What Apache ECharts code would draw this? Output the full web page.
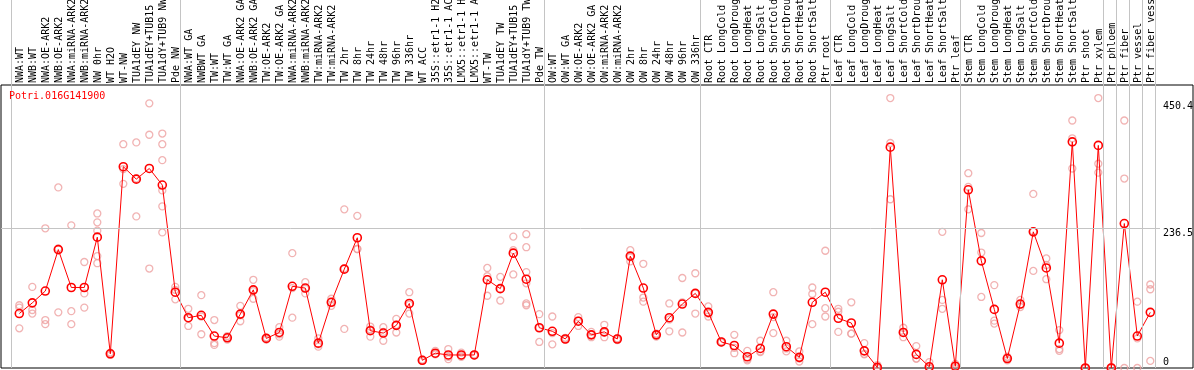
<!DOCTYPE html>
<html><head><meta charset="utf-8">
<script src="https://cdn.jsdelivr.net/npm/echarts@6/dist/echarts.min.js"></script>
<style>html,body{margin:0;padding:0;background:#fff}#c{width:1194px;height:370px}</style>
</head><body><div id="c"></div>
<script>
const geneTitle = 'Potri.016G141900';
const categories = [
 'NWA:WT','NWB:WT','NWA:OE-ARK2','NWB:OE-ARK2','NWA:miRNA-ARK2','NWB:miRNA-ARK2','NW 0hr','WT H2O','WT-NW','TUA1dEY NW','TUA1dEY+TUB15 NW','TUA1dY+TUB9 NW','Pde NW',
 'NWA:WT GA','NWBWT GA','TW:WT','TW:WT GA','NWA:OE-ARK2 GA','NWB:OE-ARK2 GA','TW:OE-ARK2','TW:OE-ARK2 GA','NWA:miRNA-ARK2 GA','NWB:miRNA-ARK2 GA','TW:miRNA-ARK2','TW:miRNA-ARK2 GA','TW 2hr','TW 8hr','TW 24hr','TW 48hr','TW 96hr','TW 336hr','WT ACC','35S::etr1-1 H2O','35S::etr1-1 ACC','LMX5::etr1-1 H2O','LMX5::etr1-1 ACC','WT-TW','TUA1dEY TW','TUA1dEY+TUB15 TW','TUA1dY+TUB9 TW','Pde TW',
 'OW:WT','OW:WT GA','OW:OE-ARK2','OW:OE-ARK2 GA','OW:miRNA-ARK2','OW:miRNA-ARK2 GA','OW 2hr','OW 8hr','OW 24hr','OW 48hr','OW 96hr','OW 336hr',
 'Root CTR','Root LongCold','Root LongDrought','Root LongHeat','Root LongSalt','Root ShortCold','Root ShortDrought','Root ShortHeat','Root ShortSalt','Ptr root',
 'Leaf CTR','Leaf LongCold','Leaf LongDrought','Leaf LongHeat','Leaf LongSalt','Leaf ShortCold','Leaf ShortDrought','Leaf ShortHeat','Leaf ShortSalt','Ptr leaf',
 'Stem CTR','Stem LongCold','Stem LongDrought','Stem LongHeat','Stem LongSalt','Stem ShortCold','Stem ShortDrought','Stem ShortHeat','Stem ShortSalt','Ptr shoot','Ptr xylem',
 'Ptr phloem','Ptr fiber','Ptr vessel','Ptr fiber vessel'
];
const groupSizes = [13, 28, 12, 10, 10, 11, 1, 1, 1, 1];
const means = [92,110,130,200,136,136,221,24,340,319,337,309,128,
 85,89,54,51,91,132,50,60,138,135,42,111,167,220,63,59,72,109,13,25,22,22,22,149,134,194,150,68,
 62,49,79,56,61,49,189,135,56,85,108,126,
 94,44,38,19,33,91,36,18,111,128,
 84,76,29,1,373,60,23,2,149,3,
 301,181,99,16,108,230,169,42,382,0,376,
 0,244,54,94];
const replicates = [
 [106,102,67],[137,98,92],[236,81,74],[305,94,202],[241,96,74],[179,126,102],[261,246,232,189,177],[22,24,26],[378,311,336],[381,256,320],[447,394,168],[396,378,351,300,273,229],[137,116,132],
 [100,71,84],[123,57,87],[81,42,39],[48,51,54],[105,79,89],[149,117,130],[48,51,51],[69,53,57],[194,85,135],[145,126,134],[50,36,40],[117,105,111],[268,66,168],[257,201,201],[70,53,65],[69,46,61],[83,60,73],[128,92,107],[12,13,14],[29,23,24],[32,15,19],[26,19,21],[21,23,22],[169,122,155],[154,114,134],[222,199,158],[226,204,162,143,109,106],[91,44,68],
 [87,40,59],[48,49,51],[86,71,80],[61,52,56],[73,52,60],[47,50,50],[199,180,187],[176,119,112],[53,56,58],[109,62,82],[152,60,111],[160,92,126],
 [104,87,92],[43,44,45],[56,25,34],[29,15,13],[46,27,28],[128,59,86],[46,28,33],[28,11,16],[136,125,74],[198,101,87],
 [100,95,61],[111,58,58],[42,23,24],[5,0,0],[456,380,285],[68,52,61],[37,16,16],[10,0,0],[230,115,100],[0,3,7],
 [329,306,268],[228,195,120],[140,80,75],[19,13,17],[115,103,107],[294,164,231],[185,150,174],[64,32,29],[418,388,337],[0,0,0],[456,345,330],
 [0,0,2],[418,320,0],[112,50,0],[141,133,12]
];
const yTickValues = [0, 236.5, 450.4];

const FONT = 'DejaVu Sans Mono';
const meanData = means.map((v, i) => [i, v]);
const repData = [];
replicates.forEach((arr, i) => arr.forEach(v => repData.push([i, v])));
const boundaries = [0];
groupSizes.forEach(s => boundaries.push(boundaries[boundaries.length - 1] + s));
const bOff = 0.638;
const xMin = -1.4077, xMax = 87.746, yMax = 478;
const vLines = boundaries.map(b => ({ xAxis: b - bOff }));

const chart = echarts.init(document.getElementById('c'), null, { renderer: 'canvas' });
chart.setOption({
  animation: false,
  backgroundColor: '#fff',
  title: { text: geneTitle, left: 9, top: 91, padding: 0,
    textStyle: { color: '#ff0000', fontFamily: FONT, fontSize: 10, fontWeight: 'normal' } },
  grid: [
    { left: 1, top: 85, width: 1159, height: 283, outerBoundsMode: 'none', containLabel: false },
    { left: 1, top: 0, width: 1159, height: 85, outerBoundsMode: 'none', containLabel: false },
    { left: 14, top: 85, width: 1144, height: 283, outerBoundsMode: 'none', containLabel: false },
    { left: 1, top: 85, width: 1192, height: 283, outerBoundsMode: 'none', containLabel: false,
      show: true, borderColor: '#000', borderWidth: 1, backgroundColor: 'transparent' }
  ],
  xAxis: [
    { type: 'value', gridIndex: 0, min: xMin, max: xMax, show: false },
    { type: 'value', gridIndex: 1, min: xMin, max: xMax, show: false },
    { type: 'category', gridIndex: 2, data: categories, position: 'top', boundaryGap: true,
      axisLine: { show: false }, axisTick: { show: false }, splitLine: { show: false },
      axisLabel: { interval: 0, rotate: 90, margin: 2, color: '#000', fontFamily: FONT, fontSize: 10, hideOverlap: false } },
    { type: 'value', gridIndex: 3, show: false, min: 0, max: 1 }
  ],
  yAxis: [
    { type: 'value', gridIndex: 0, min: 0, max: yMax, position: 'right',
      axisLine: { show: false }, axisTick: { show: false }, splitLine: { show: false },
      axisLabel: { show: true, margin: 3, customValues: yTickValues, color: '#000', fontFamily: FONT, fontSize: 10,
        formatter: v => v === 0 ? '{b|0}' : '{t|' + v + '}',
        rich: { t: { padding: [10, 0, 0, 0], fontFamily: FONT, fontSize: 10, color: '#000' },
                b: { padding: [0, 0, 12, 0], fontFamily: FONT, fontSize: 10, color: '#000' } } } },
    { type: 'value', gridIndex: 1, min: 0, max: 1, show: false },
    { type: 'value', gridIndex: 2, min: 0, max: 1, show: false },
    { type: 'value', gridIndex: 3, min: 0, max: 1, show: false }
  ],
  series: [
    { type: 'line', xAxisIndex: 1, yAxisIndex: 1, data: [], silent: true,
      markLine: { silent: true, symbol: 'none', label: { show: false },
        lineStyle: { color: '#c4c4c4', width: 1, type: 'solid' }, data: vLines } },
    { type: 'line', xAxisIndex: 0, yAxisIndex: 0, data: [], silent: true, z: 1,
      markLine: { silent: true, symbol: 'none', label: { show: false },
        lineStyle: { color: '#c4c4c4', width: 1, type: 'solid' },
        data: vLines.concat([{ yAxis: 236.5 }]) } },
    { type: 'scatter', xAxisIndex: 0, yAxisIndex: 0, data: repData, symbol: 'circle', symbolSize: 7, z: 2,
      itemStyle: { color: 'rgba(0,0,0,0)', borderColor: '#eda0a0', borderWidth: 1.3 } },
    { type: 'line', xAxisIndex: 0, yAxisIndex: 0, data: meanData, symbol: 'circle', symbolSize: 8, showSymbol: true, z: 3,
      lineStyle: { color: '#ff0000', width: 1 },
      itemStyle: { color: 'rgba(0,0,0,0)', borderColor: '#ff0000', borderWidth: 1.6 } }
  ]
});
</script></body></html>
